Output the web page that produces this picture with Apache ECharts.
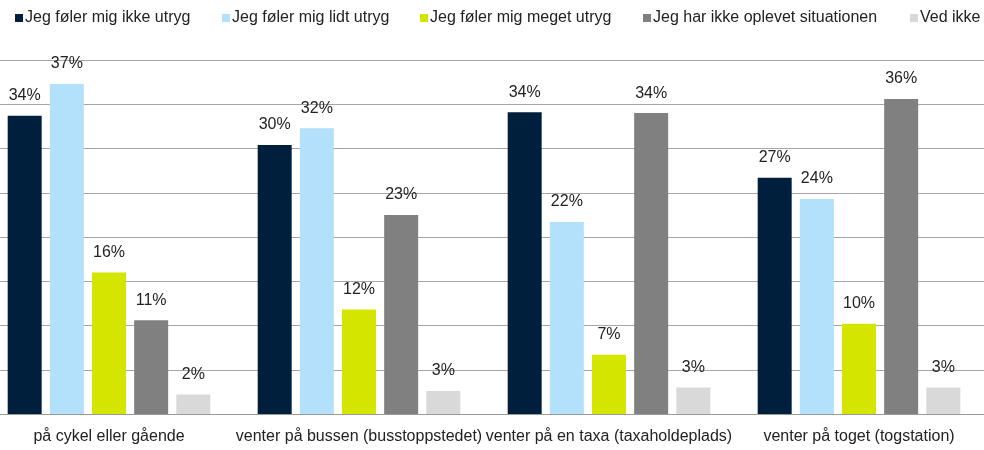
<!DOCTYPE html>
<html>
<head>
<meta charset="utf-8">
<script src="https://cdn.jsdelivr.net/npm/echarts@6/dist/echarts.min.js"></script>
<style>
  html, body { margin: 0; padding: 0; background: #fff; overflow: hidden; }
  #chart { width: 1000px; height: 450px; position: relative; left: -16px; }
</style>
</head>
<body>
<div id="chart"></div>
<script>
  var categories = ['på cykel eller gående', 'venter på bussen (busstoppstedet)', 'venter på en taxa (taxaholdeplads)', 'venter på toget (togstation)'];
  var seriesNames = ['Jeg føler mig ikke utryg', 'Jeg føler mig lidt utryg', 'Jeg føler mig meget utryg', 'Jeg har ikke oplevet situationen', 'Ved ikke'];
  var ikkeUtryg = [33.7, 30.4, 34.1, 26.7];
  var lidtUtryg = [37.3, 32.3, 21.7, 24.3];
  var megetUtryg = [16.0, 11.8, 6.7, 10.2];
  var ikkeOplevet = [10.6, 22.5, 34.0, 35.6];
  var vedIkke = [2.2, 2.6, 3.0, 3.0];
  var colors = ['#001f3d', '#b3e1fc', '#d4e600', '#808080', '#d9d9d9'];
  // chart div is shifted 16px left, so these are page x + 16
  var legendLeft = [31, 238, 436, 659, 926];

  var chart = echarts.init(document.getElementById('chart'));
  var font = 'Liberation Sans, Arial, sans-serif';

  var values = [ikkeUtryg, lidtUtryg, megetUtryg, ikkeOplevet, vedIkke];
  var series = [];
  var legends = [];
  for (var i = 0; i < seriesNames.length; i++) {
    series.push({
      name: seriesNames[i],
      type: 'bar',
      data: values[i],
      barWidth: 34,
      barGap: '24%',
      itemStyle: { color: colors[i] },
      label: {
        show: true,
        position: 'top',
        distance: 12,
        color: '#222',
        fontFamily: font,
        fontSize: 16,
        formatter: function (p) {
          return Math.round(p.value) + '%';
        }
      }
    });
    legends.push({
      data: [seriesNames[i]],
      left: legendLeft[i],
      top: 10,
      padding: 0,
      itemWidth: 8,
      itemHeight: 8,
      icon: 'rect',
      textStyle: { color: '#222', fontFamily: font, fontSize: 16, padding: [0, 0, 0, -3] },
      selectedMode: false
    });
  }

  var option = {
    animation: false,
    legend: legends,
    grid: { left: 0, right: 0, top: 60, bottom: 36 },
    xAxis: {
      type: 'category',
      data: categories,
      axisTick: { show: false },
      axisLine: { lineStyle: { color: '#999', width: 1 } },
      axisLabel: { interval: 0, margin: 15, color: '#222', fontFamily: font, fontSize: 16 }
    },
    yAxis: {
      type: 'value',
      min: 0,
      max: 40,
      interval: 5,
      axisLabel: { show: false },
      axisLine: { show: false },
      axisTick: { show: false },
      splitLine: { lineStyle: { color: '#a6a6a6', width: 1 } }
    },
    series: series
  };
  chart.setOption(option);
</script>
</body>
</html>
